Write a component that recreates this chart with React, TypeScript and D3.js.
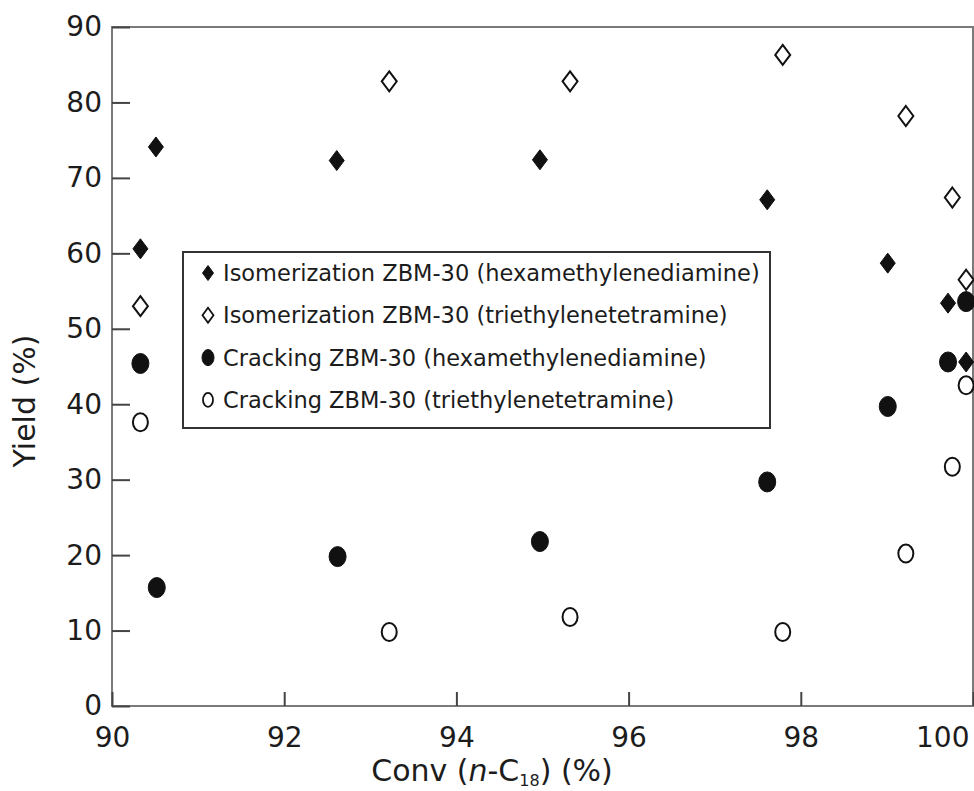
import React, { useEffect, useRef } from 'react'
import * as d3 from 'd3'

// conversion (%) / yield (%)
const isoHexX = [90.33, 90.51, 92.61, 94.97, 97.61, 99.01, 99.71, 99.92]
const isoHexY = [60.6, 74.1, 72.3, 72.4, 67.1, 58.7, 53.4, 45.6]

const isoTetX = [90.33, 93.22, 95.32, 97.79, 99.22, 99.76, 99.92]
const isoTetY = [53.0, 82.8, 82.8, 86.3, 78.2, 67.4, 56.5]

const crkHexX = [90.33, 90.52, 92.62, 94.97, 97.61, 99.01, 99.71, 99.92]
const crkHexY = [45.4, 15.7, 19.8, 21.8, 29.7, 39.7, 45.6, 53.6]

const crkTetX = [90.33, 93.22, 95.32, 97.79, 99.22, 99.76, 99.92]
const crkTetY = [37.6, 9.8, 11.8, 9.8, 20.2, 31.7, 42.5]

const xTicks = [90, 92, 94, 96, 98, 100]
const yTicks = [0, 10, 20, 30, 40, 50, 60, 70, 80, 90]

const legendLabels = [
  'Isomerization ZBM-30 (hexamethylenediamine)',
  'Isomerization ZBM-30 (triethylenetetramine)',
  'Cracking ZBM-30 (hexamethylenediamine)',
  'Cracking ZBM-30 (triethylenetetramine)',
]

const FONT = '"DejaVu Sans", sans-serif'
const INK = '#1c1c1c'
const AXIS = '#7a7a7a'

const diamond = (cx: number, cy: number, w: number, h: number) =>
  `M${cx},${cy - h}L${cx + w},${cy}L${cx},${cy + h}L${cx - w},${cy}Z`

const App = () => {
  const ref = useRef<SVGSVGElement>(null)

  useEffect(() => {
    const svg = d3.select(ref.current)
    svg.selectAll('*').remove()

    const x = d3.scaleLinear().domain([90, 100]).range([112, 973])
    const y = d3.scaleLinear().domain([0, 90]).range([706, 27])

    // frame
    svg.append('rect')
      .attr('x', x(90))
      .attr('y', y(90))
      .attr('width', x(100) - x(90))
      .attr('height', y(0) - y(90))
      .attr('fill', 'none')
      .attr('stroke', AXIS)
      .attr('stroke-width', 2)

    const yAxis = svg.append('g')
      .attr('transform', `translate(${x(90)},0)`)
      .call(d3.axisLeft(y).tickValues(yTicks).tickSizeInner(-18).tickSizeOuter(0).tickPadding(10))
    yAxis.select('.domain').remove()
    yAxis.selectAll('line').attr('stroke', '#444').attr('stroke-width', 2)
    yAxis.selectAll('text')
      .attr('font-family', FONT)
      .attr('font-size', 28)
      .attr('fill', INK)

    const xAxis = svg.append('g')
      .attr('transform', `translate(0,${y(0)})`)
      .call(d3.axisBottom(x).tickValues(xTicks).tickSizeInner(-14).tickSizeOuter(0).tickPadding(21))
    xAxis.select('.domain').remove()
    xAxis.selectAll('line').attr('stroke', '#444').attr('stroke-width', 2)
    xAxis.selectAll('text')
      .attr('font-family', FONT)
      .attr('font-size', 28)
      .attr('fill', INK)
    xAxis.selectAll<SVGTextElement, number>('text')
      .filter(d => d === 100)
      .attr('text-anchor', 'end')
      .attr('x', -4)

    // axis titles
    svg.append('text')
      .attr('transform', `translate(35,401) rotate(-90)`)
      .attr('text-anchor', 'middle')
      .attr('font-family', FONT)
      .attr('font-size', 30)
      .attr('fill', INK)
      .text('Yield (%)')

    const xt = svg.append('text')
      .attr('x', 492)
      .attr('y', 781)
      .attr('text-anchor', 'middle')
      .attr('font-family', FONT)
      .attr('font-size', 30)
      .attr('fill', INK)
    xt.append('tspan').text('Conv (')
    xt.append('tspan').attr('font-style', 'italic').text('n')
    xt.append('tspan').text('-C')
    xt.append('tspan').attr('font-size', 16).attr('dy', 5).text('18')
    xt.append('tspan').attr('dy', -5).text(') (%)')

    const pts = svg.append('g')

    const drawDiamonds = (xs: number[], ys: number[], filled: boolean) => {
      pts.selectAll(null)
        .data(xs.map((d, i) => [d, ys[i]]))
        .enter()
        .append('path')
        .attr('d', d => diamond(x(d[0]), y(d[1]), 7.5, 10))
        .attr('fill', filled ? '#111' : 'white')
        .attr('stroke', '#111')
        .attr('stroke-width', filled ? 1 : 2)
    }

    const drawCircles = (xs: number[], ys: number[], filled: boolean) => {
      pts.selectAll(null)
        .data(xs.map((d, i) => [d, ys[i]]))
        .enter()
        .append('ellipse')
        .attr('cx', d => x(d[0]))
        .attr('cy', d => y(d[1]))
        .attr('rx', filled ? 8.5 : 7.5)
        .attr('ry', filled ? 10 : 9)
        .attr('fill', filled ? '#111' : 'white')
        .attr('stroke', '#111')
        .attr('stroke-width', filled ? 1 : 2)
    }

    drawCircles(crkTetX, crkTetY, false)
    drawDiamonds(isoTetX, isoTetY, false)
    drawCircles(crkHexX, crkHexY, true)
    drawDiamonds(isoHexX, isoHexY, true)

    // legend
    const legend = svg.append('g')
    legend.append('rect')
      .attr('x', 183)
      .attr('y', 252)
      .attr('width', 587)
      .attr('height', 176)
      .attr('fill', 'white')
      .attr('stroke', '#333')
      .attr('stroke-width', 2)

    legendLabels.forEach((label, i) => {
      const cy = 273 + i * 42.3
      if (i < 2) {
        legend.append('path')
          .attr('d', diamond(208, cy, 5.5, 7.5))
          .attr('fill', i === 0 ? '#111' : 'white')
          .attr('stroke', '#111')
          .attr('stroke-width', i === 0 ? 1 : 1.8)
      } else {
        legend.append('ellipse')
          .attr('cx', 208)
          .attr('cy', cy)
          .attr('rx', i === 2 ? 6 : 5)
          .attr('ry', i === 2 ? 8 : 7)
          .attr('fill', i === 2 ? '#111' : 'white')
          .attr('stroke', '#111')
          .attr('stroke-width', i === 2 ? 1 : 1.8)
      }
      legend.append('text')
        .attr('x', 223)
        .attr('y', cy)
        .attr('dy', '0.36em')
        .attr('font-family', FONT)
        .attr('font-size', 22.5)
        .attr('fill', INK)
        .text(label)
    })
  }, [])

  return (
    <svg
      ref={ref}
      width={974}
      height={791}
      style={{ position: 'absolute', left: 0, top: 0, background: 'white' }}
    />
  )
}

export default App
